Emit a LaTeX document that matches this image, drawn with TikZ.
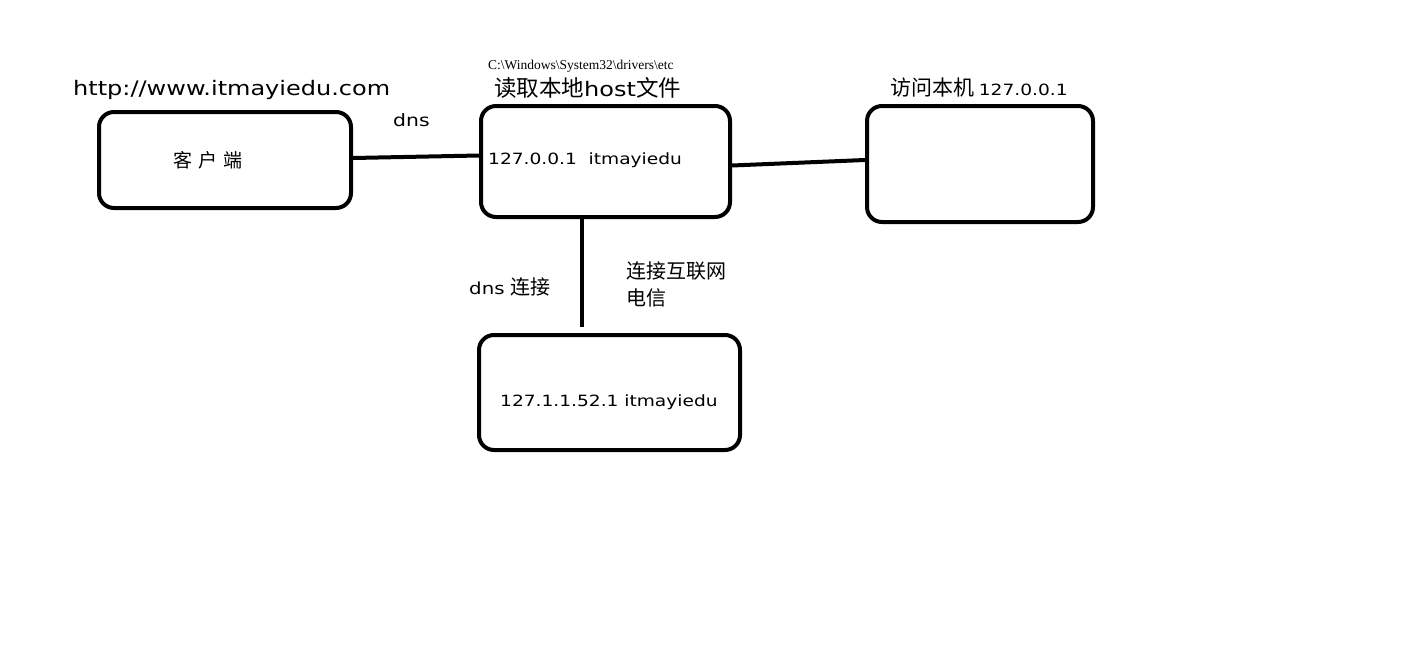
\documentclass[tikz,border=0pt]{standalone}
\usepackage{fontspec}
\setmainfont{Liberation Serif}
\setsansfont[FakeStretch=1.2]{DejaVu Sans}
\newfontfamily\cjk{Noto Sans CJK SC}
\usetikzlibrary{positioning, calc}
\newcommand\fsz[1]{\fontsize{#1}{#1}\selectfont}
\tikzset{
	netbox/.style={draw, line width=4pt, rounded corners=15pt, inner sep=0pt},
	netline/.style={line width=4pt},
	lbl/.style={anchor=west, inner sep=0pt, font=\sffamily\fsz{15.5}},
	cjklbl/.style={anchor=west, inner sep=0pt, font=\cjk\fsz{20}}
}

\begin{document}
\begin{tikzpicture}[x=1pt, y=-1pt]
	\useasboundingbox (0,0) rectangle (1424,648);
	% boxes
	\node[netbox, minimum width=252pt, minimum height=96pt] (client) at (225,160) {};
	\node[netbox, minimum width=249pt, minimum height=111pt] (hosts) at (605.5,161.5) {};
	\node[netbox, minimum width=226pt, minimum height=116pt] (local) at (980,164) {};
	\node[netbox, minimum width=261pt, minimum height=115pt] (isp) at (609.5,392.5) {};
	\coordinate (dnsend) at (582,327);
	% connectors
	\draw[netline] ($(client.east)+(0,-2)$) -- ($(hosts.west)+(0,-6)$);
	\draw[netline] ($(hosts.east)+(0,4)$) -- ($(local.east)+(-230,-4)$);
	\draw[netline] ($(hosts.south)+(-23.5,0)$) -- (dnsend);
	% texts
	\node[lbl, font=\sffamily\fsz{20}] (url) at (73,90) {http://www.itmayiedu.com};
	\node[lbl, font=\rmfamily\fsz{13.5}] (path) at (488,66) {C:\textbackslash Windows\textbackslash System32\textbackslash drivers\textbackslash etc};
	\node[cjklbl, font=\cjk\fsz{22.5}] (readhost) at (494,88) {读取本地\sffamily\fsz{20}host\cjk\fsz{22.5}文件};
	\node[lbl, font=\sffamily\fsz{17}] (dns) at (393,120) {dns};
	\node[cjklbl, font=\cjk\fsz{19}] (clienttxt) at (173,160) {客\,\,户\,\,端};
	\node[lbl] (hoststxt) at (488,160) {127.0.0.1\ \ itmayiedu};
	\node[cjklbl, font=\cjk\fsz{21}] (visit) at (890,88) {访问本机 \sffamily\fsz{15.5}127.0.0.1};
	\node[lbl, font=\sffamily\fsz{16.5}] (dnslink) at (469,287) {dns \cjk\fsz{20}连接};
	\node[cjklbl] (inet) at (626,271) {连接互联网};
	\node[cjklbl] (telecom) at (626,298) {电信};
	\node[lbl] (isptxt) at (500,402) {127.1.1.52.1 itmayiedu};
\end{tikzpicture}
\end{document}
